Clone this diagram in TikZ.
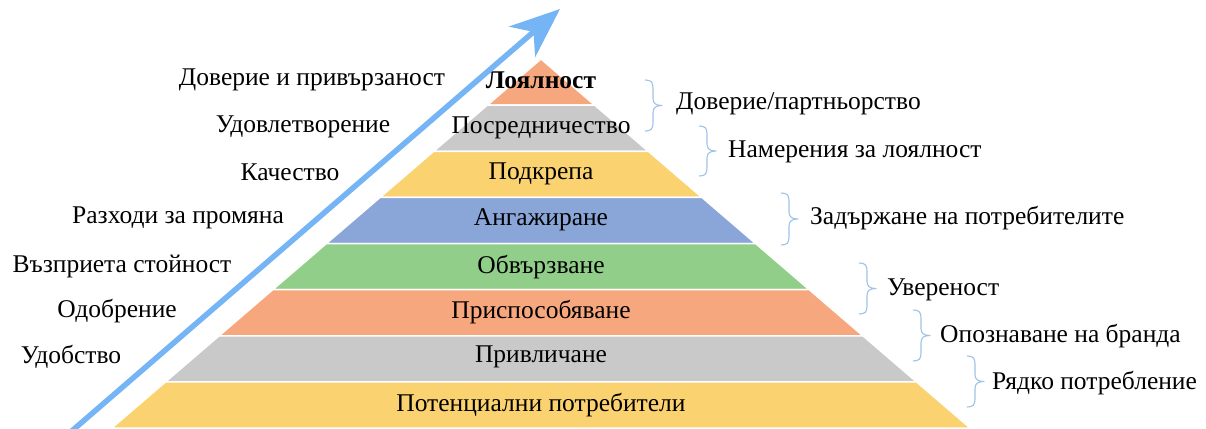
\documentclass[tikz,border=0pt]{standalone}
\usepackage{fontspec}
\setmainfont{Liberation Serif}
\usetikzlibrary{arrows.meta}
\definecolor{cOr}{RGB}{247,167,126}
\definecolor{cGr}{RGB}{201,201,201}
\definecolor{cYe}{RGB}{251,210,112}
\definecolor{cBl}{RGB}{138,166,216}
\definecolor{cGn}{RGB}{145,206,137}
\definecolor{cArr}{RGB}{117,181,245}
\definecolor{cBr}{RGB}{157,195,230}
\tikzset{
  lbl/.style={font=\fontsize{25.5}{28}\selectfont, inner sep=0pt},
  rlbl/.style={lbl, anchor=west},
  brc/.style={draw=cBr, line width=1.1pt, line join=round},
  arr/.style={draw=cArr, line width=5.5pt, -{Stealth[length=50pt,width=40pt,inset=15pt]}}
}
\newcommand\mybrace[4]{% name, x, ytop, ybottom
  \pgfmathsetmacro\bx{#2}\pgfmathsetmacro\bt{#3}\pgfmathsetmacro\bb{#4}
  \pgfmathsetmacro\bm{(#3+#4)/2}
  \coordinate (#1t) at (\bx,\bt);
  \coordinate (#1b) at (\bx,\bb);
  \coordinate (#1m) at (\bx+17,\bm);
  \draw[brc] (#1t) .. controls (\bx+6,\bt) and (\bx+8,\bt+2) .. (\bx+8,\bt+8)
    -- (\bx+8,\bm-7) .. controls (\bx+8,\bm-2) and (\bx+11,\bm) .. (#1m)
    .. controls (\bx+11,\bm) and (\bx+8,\bm+2) .. (\bx+8,\bm+7)
    -- (\bx+8,\bb-8) .. controls (\bx+8,\bb-2) and (\bx+6,\bb) .. (#1b);
}
\begin{document}
\begin{tikzpicture}[x=1pt,y=-1pt]
\useasboundingbox (0,0) rectangle (1206,428);
\foreach \i/\col in {0/cOr,1/cGr,2/cYe,3/cBl,4/cGn,5/cOr,6/cGr,7/cYe} {
  \pgfmathsetmacro\ya{59+46.125*\i}
  \pgfmathsetmacro\yb{59+46.125*(\i+1)}
  \pgfmathsetmacro\wa{1.163*46.125*\i}
  \pgfmathsetmacro\wb{1.163*46.125*(\i+1)}
  \filldraw[fill=\col, draw=white, line width=1.5pt] (541-\wa,\ya) -- (541+\wa,\ya) -- (541+\wb,\yb) -- (541-\wb,\yb) -- cycle;
}
% layer labels
\node[lbl] (l0) at (541,80) {\textbf{Лоялност}};
\node[lbl] (l1) at (541,128) {Посредничество};
\node[lbl] (l2) at (541,174) {Подкрепа};
\node[lbl] (l3) at (541,220) {Ангажиране};
\node[lbl] (l4) at (541,267) {Обвързване};
\node[lbl] (l5) at (541,312) {Приспособяване};
\node[lbl] (l6) at (541,357) {Привличане};
\node[lbl] (l7) at (541,405) {Потенциални потребители};
% arrow
\coordinate (as) at (66,436);
\coordinate (ae) at (560,9);
\draw[arr] (as) -- (ae);
% left labels
\node[lbl] (a0) at (312,80) {Доверие и привързаност};
\node[lbl] (a1) at (303,127) {Удовлетворение};
\node[lbl] (a2) at (290,172) {Качество};
\node[lbl] (a3) at (178,218) {Разходи за промяна};
\node[lbl] (a4) at (122,266) {Възприета стойност};
\node[lbl] (a5) at (117,311) {Одобрение};
\node[lbl] (a6) at (71,357) {Удобство};
% braces
\mybrace{b1}{645}{80}{131}
\mybrace{b2}{699}{126}{176}
\mybrace{b3}{781}{193}{245}
\mybrace{b4}{859}{263}{314}
\mybrace{b5}{913}{310}{361}
\mybrace{b6}{967}{356}{407}
\node[rlbl] (r1) at (676,104) {Доверие/партньорство};
\node[rlbl] (r2) at (728,152) {Намерения за лоялност};
\node[rlbl] (r3) at (810,218) {Задържане на потребителите};
\node[rlbl] (r4) at (887,290) {Увереност};
\node[rlbl] (r5) at (940,336) {Опознаване на бранда};
\node[rlbl] (r6) at (992,383) {Рядко потребление};
\end{tikzpicture}
\end{document}
